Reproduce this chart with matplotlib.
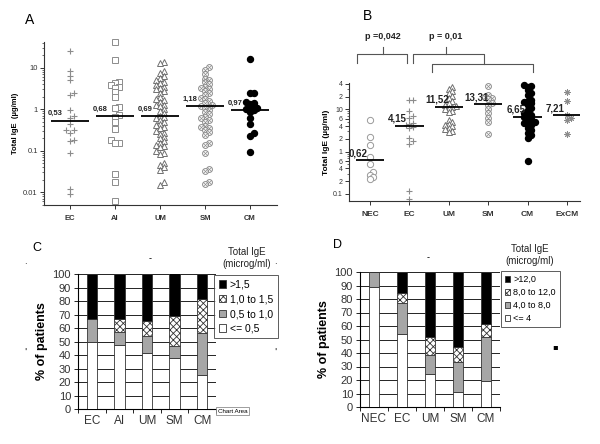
import numpy as np
import matplotlib
matplotlib.use("Agg")
import matplotlib.pyplot as plt
from matplotlib.lines import Line2D
from matplotlib.patches import Patch
from matplotlib.transforms import blended_transform_factory

plt.rcParams['font.family'] = ['Liberation Sans', 'DejaVu Sans']
plt.rcParams['hatch.linewidth'] = 0.6

# ---- panel A: total IgE (ug/ml) per group ----
groups_a = ["EC", "AI", "UM", "SM", "CM"]
a_ec = [25, 8.3, 6.5, 5.2, 2.5, 2.2, 0.95, 0.68, 0.6, 0.45, 0.32, 0.31, 0.27, 0.18, 0.17,
        0.088, 0.012, 0.0091]
a_ai = [42, 15.5, 4.5, 4.3, 3.8, 3.5, 3.3, 2.6, 2.0, 1.15, 1.05, 0.72, 0.66, 0.48, 0.33,
        0.18, 0.15, 0.15, 0.028, 0.018, 0.006]
a_um = [14, 13, 8.5, 7.5, 6.5, 5.8, 5, 4.5, 4.2, 3.8, 3.5, 3.2, 3.0, 2.8, 2.5, 2.0, 1.8,
        1.7, 1.5, 1.3, 1.3, 1.2, 1.0, 0.9, 0.8, 0.7, 0.65, 0.6, 0.55, 0.5, 0.45, 0.42, 0.38,
        0.35, 0.3, 0.27, 0.25, 0.22, 0.2, 0.17, 0.15, 0.14, 0.13, 0.12, 0.1, 0.09, 0.085,
        0.05, 0.045, 0.04, 0.035, 0.018, 0.015]
a_sm = [10.5, 9, 7, 5.5, 5, 4.5, 4, 3.5, 3.3, 3.1, 2.8, 2.5, 2.2, 1.9, 1.8, 1.6, 1.4, 1.3,
        1.2, 1.15, 1.1, 0.95, 0.85, 0.75, 0.65, 0.6, 0.55, 0.5, 0.4, 0.37, 0.35, 0.32, 0.28,
        0.24, 0.15, 0.14, 0.09, 0.037, 0.032, 0.018, 0.016]
a_cm = [16.5, 2.5, 2.5, 1.5, 1.45, 1.35, 1.2, 1.1, 1.05, 1.0, 0.95, 0.85, 0.62, 0.43, 0.27,
        0.23, 0.093]
medians_a = [0.53, 0.68, 0.69, 1.18, 0.97]
median_labels_a = ["0,53", "0,68", "0,69", "1,18", "0,97"]

# ---- panel B ----
groups_b = ["NEC", "EC", "UM", "SM", "CM", "ExCM"]
b_nec = [5.5, 2.2, 1.4, 0.75, 0.5, 0.33, 0.28, 0.25, 0.23]
b_ec = [17, 17, 9, 7, 6.2, 4.8, 4.4, 4.2, 3.8, 3.6, 2.1, 1.8, 1.5, 0.12, 0.075]
b_um = [34, 30, 27, 24, 21, 19, 16, 14, 13, 12, 11.5, 11, 10, 9, 8.5, 5.6, 5, 4.5, 4.2,
        4, 3.7, 3.4, 3.1, 2.9]
b_sm = [36, 22, 20, 19, 18, 14, 12.5, 10, 8.2, 6.2, 5, 2.6]
b_cm = [38, 36, 34, 28, 24, 22, 17, 16, 15, 14, 13, 10.5, 9.5, 8, 7.5, 7, 6.5, 6, 5.5, 5,
        4.8, 4.5, 4.2, 3.6, 3.2, 2.8, 2.5, 2.1, 0.6]
b_excm = [26, 15.5, 7.3, 6.3, 5.6, 2.6]
medians_b = [0.62, 4.15, 11.52, 13.31, 6.65, 7.21]
median_labels_b = ["0,62", "4,15", "11,52", "13,31", "6,65", "7,21"]
b_ticks = [0.1, 0.2, 0.4, 0.6, 1, 2, 4, 6, 10, 20, 40]
b_tick_labels = ["0.1", "2", "4", "6", "1", "2", "4", "6", "10", "2", "4"]
p_labels = ["p =0,042", "p = 0,01"]

# ---- panel C: % of patients per IgE class (bottom to top) ----
groups_c = ["EC", "AI", "UM", "SM", "CM"]
c_low = [50, 47.6, 41.7, 37.8, 25]
c_mid = [16.7, 9.5, 12.5, 9.2, 31.25]
c_high = [0, 9.6, 11.2, 22, 25]
c_top = [33.3, 33.3, 34.6, 31.4, 18.75]
c_legend = [">1,5", "1,0 to 1,5", "0,5 to 1,0", "<= 0,5"]

# ---- panel D ----
groups_d = ["NEC", "EC", "UM", "SM", "CM"]
d_low = [88.9, 53.8, 24.2, 11.1, 19.4]
d_mid = [11.1, 23.1, 14.3, 22.2, 32.2]
d_high = [0, 7.7, 13.5, 11.1, 9.7]
d_top = [0, 15.4, 48.0, 55.6, 38.7]
d_legend = [">12,0", "8,0 to 12,0", "4,0 to 8,0", "<= 4"]


def swarm(values, ppd, ppu, diam, step):
    """Beeswarm-style x offsets (data units), packed tightly so columns stay narrow."""
    ys = np.log10(values) * ppd
    offs = np.zeros(len(values))
    placed = []
    for i in np.argsort(ys):
        y = ys[i]
        for k in range(60):
            cand = 0.0 if k == 0 else ((k + 1) // 2) * step * (1 if k % 2 else -1)
            if all((cand - px) ** 2 + (y - py) ** 2 >= diam ** 2 for px, py in placed):
                break
        placed.append((cand, y))
        offs[i] = cand / ppu
    return offs


def draw_marks(ax, pos, vals, kind, ppd, ppu):
    vals = np.asarray(vals, dtype=float)
    x = pos + swarm(vals, ppd, ppu, 3.4, 3.6)
    g = '#8c8c8c'
    kw = dict(ls='none', clip_on=False)
    if kind == 'plus':
        ax.plot(x, vals, marker='+', ms=5, mew=0.8, color=g, **kw)
    elif kind == 'square':
        ax.plot(x, vals, marker='s', ms=4, mew=0.7, mfc='white', color=g, **kw)
    elif kind == 'tri':
        ax.plot(x, vals, marker='^', ms=4.2, mew=0.7, mfc='white', color='#707070', **kw)
    elif kind == 'otimes':
        ax.plot(x, vals, marker='o', ms=4.2, mew=0.7, mfc='white', color=g, **kw)
        ax.plot(x, vals, marker='x', ms=2.4, mew=0.5, color=g, **kw)
    elif kind == 'circle':
        ax.plot(x, vals, marker='o', ms=4.5, mew=0.7, mfc='white', color='#999999', **kw)
    elif kind == 'dot':
        ax.plot(x, vals, marker='o', ms=4.3, color='black', **kw)
    elif kind == 'star':
        ax.plot(x, vals, marker=(8, 2, 0), ms=4.5, mew=0.7, color=g, **kw)


def style_log_axis(ax):
    for s in ('top', 'right'):
        ax.spines[s].set_visible(False)
    for s in ('left', 'bottom'):
        ax.spines[s].set_color('#333333')
        ax.spines[s].set_linewidth(0.8)
    ax.tick_params(which='major', length=3, width=0.7, color='#333333', pad=1.5)
    ax.tick_params(which='minor', length=1.5, width=0.5, color='#333333')


fig = plt.figure(figsize=(6.0, 4.44), dpi=100)

# ================= A =================
ax_a = fig.add_axes([44 / 600, 1 - 205 / 444, 233 / 600, 163 / 444])
ax_a.set_yscale('log')
ax_a.set_ylim(0.0049, 42)
ax_a.set_xlim(0.42, 5.6)
kinds_a = ['plus', 'square', 'tri', 'otimes', 'dot']
for i, vals in enumerate([a_ec, a_ai, a_um, a_sm, a_cm]):
    pos = i + 1
    draw_marks(ax_a, pos, vals, kinds_a[i], 42, 45)
    ax_a.hlines(medians_a[i], pos - 0.42, pos + 0.42, color='black', lw=1.3, zorder=5)
    ax_a.annotate(median_labels_a[i], (pos - 0.33, medians_a[i]), xytext=(0, 2.5),
                  textcoords='offset points', ha='center', va='bottom',
                  fontsize=5.5, fontweight='bold', color='#222222', zorder=6)
style_log_axis(ax_a)
ax_a.set_yticks([0.01, 0.1, 1, 10])
ax_a.set_yticklabels(['0.01', '0.1', '1', '10'], fontsize=5.5, color='#333333')
ax_a.set_xticks(range(1, 6))
ax_a.set_xticklabels(groups_a, fontsize=5.5, fontweight='bold', color='#333333')
ax_a.tick_params(axis='x', pad=4)
ax_a.set_ylabel('Total IgE  (µg/ml)', fontsize=5.5, fontweight='bold', labelpad=3)
fig.text(25 / 600, 1 - 20 / 444, 'A', fontsize=10, va='center')

# ================= B =================
ax_b = fig.add_axes([349 / 600, 1 - 201 / 444, 231 / 600, 118 / 444])
ax_b.set_yscale('log')
ax_b.set_ylim(0.068, 42)
ax_b.set_xlim(0.47, 6.33)
kinds_b = ['circle', 'plus', 'tri', 'otimes', 'dot', 'star']
for i, vals in enumerate([b_nec, b_ec, b_um, b_sm, b_cm, b_excm]):
    pos = i + 1
    draw_marks(ax_b, pos, vals, kinds_b[i], 42.5, 39.5)
    ax_b.hlines(medians_b[i], pos - 0.36, pos + 0.36, color='black', lw=1.3, zorder=5)
    ax_b.annotate(median_labels_b[i], (pos - 0.3, medians_b[i]), xytext=(0, 1.5),
                  textcoords='offset points', ha='center', va='bottom',
                  fontsize=7, fontweight='bold', color='#222222', zorder=6)
style_log_axis(ax_b)
ax_b.set_yticks(b_ticks)
ax_b.set_yticklabels(b_tick_labels, fontsize=5, color='#333333')
ax_b.set_yticks([0.3, 0.5, 0.7, 0.8, 0.9, 3, 5, 7, 8, 9, 30], minor=True)
ax_b.yaxis.set_minor_formatter(plt.NullFormatter())
ax_b.set_xticks(range(1, 7))
ax_b.set_xticklabels(groups_b, fontsize=6, fontweight='bold', color='#333333')
ax_b.tick_params(axis='x', pad=4)
ax_b.set_ylabel('Total IgE (µg/ml)', fontsize=6, fontweight='bold', labelpad=2)
fig.text(363 / 600, 1 - 16 / 444, 'B', fontsize=10, va='center')

# significance brackets (x in data units, y in axes fraction)
tr = blended_transform_factory(ax_b.transData, ax_b.transAxes)
bracket_lines = [
    ([0.67, 0.67, 1.94, 1.94], [1.169, 1.246, 1.246, 1.169]),
    ([1.33, 1.33], [1.246, 1.305]),
    ([2.09, 2.09, 3.89, 3.89], [1.169, 1.246, 1.246, 1.161]),
    ([2.92, 2.92], [1.246, 1.305]),
    ([2.57, 2.57, 5.13, 5.13], [1.093, 1.161, 1.161, 1.093]),
]
for xs, ys in bracket_lines:
    ax_b.add_line(Line2D(xs, ys, transform=tr, color='#555555', lw=0.8, clip_on=False))
ax_b.text(1.33, 1.39, p_labels[0], transform=tr, ha='center', va='center',
          fontsize=6.5, fontweight='bold', color='#222222')
ax_b.text(2.92, 1.39, p_labels[1], transform=tr, ha='center', va='center',
          fontsize=6.5, fontweight='bold', color='#222222')

# ================= C & D (stacked bars) =================
fill_colors = ['white', '#a6a6a6', 'white', 'black']
fill_hatches = [None, None, 'xxxxx', None]


def stacked(ax, cats, layers):
    x = np.arange(len(cats))
    bottom = np.zeros(len(cats))
    for vals, fc, h in zip(layers, fill_colors, fill_hatches):
        vals = np.asarray(vals, dtype=float)
        ax.bar(x, vals, 0.37, bottom=bottom, color=fc, edgecolor='#333333',
               hatch=h, lw=0.6, zorder=3)
        bottom += vals
    ax.set_xlim(-0.5, len(cats) - 0.5)
    ax.set_ylim(0, 100)
    ax.set_yticks(range(0, 101, 10))
    ax.yaxis.grid(True, color='black', lw=0.6, zorder=0)
    ax.set_axisbelow(True)
    for s in ('top', 'right'):
        ax.spines[s].set_visible(False)
    for s in ('left', 'bottom'):
        ax.spines[s].set_color('black')
        ax.spines[s].set_linewidth(0.8)
    ax.set_xticks(x)
    ax.set_xticklabels(cats, fontsize=8.5, color='#333333')
    ax.set_xticks(np.arange(-0.5, len(cats)), minor=True)
    ax.tick_params(axis='x', which='major', length=0, pad=4)
    ax.tick_params(axis='x', which='minor', length=3, width=0.6)
    ax.tick_params(axis='y', length=3, width=0.6, labelsize=8, labelcolor='#333333', pad=2)
    ax.set_ylabel('% of patients', fontsize=9, fontweight='bold', labelpad=3)


def legend_handles():
    return [Patch(fc='black', ec='#333333', lw=0.6),
            Patch(fc='white', ec='#333333', hatch='xxxxx', lw=0.6),
            Patch(fc='#a6a6a6', ec='#333333', lw=0.6),
            Patch(fc='white', ec='#333333', lw=0.6)]


ax_c = fig.add_axes([78 / 600, 1 - 409 / 444, 138 / 600, 135 / 444])
stacked(ax_c, groups_c, [c_low, c_mid, c_high, c_top])
leg = fig.legend(legend_handles(), c_legend, loc='upper left',
                 bbox_to_anchor=(214 / 600, 1 - 275 / 444), frameon=True, fancybox=False,
                 edgecolor='#333333', fontsize=7.5, handlelength=0.7, handleheight=0.7,
                 handletextpad=0.35, borderpad=0.45, labelspacing=0.45, borderaxespad=0)
leg.get_frame().set_linewidth(0.7)
fig.text(247 / 600, 1 - 258 / 444, 'Total IgE\n(microg/ml)', ha='center', va='center',
         fontsize=7, color='#222222', linespacing=1.15)
fig.text(32 / 600, 1 - 248 / 444, 'C', fontsize=9, va='center')
fig.text(218 / 600, 1 - 411 / 444, 'Chart Area', fontsize=4.5, va='center', ha='left',
         bbox=dict(boxstyle='square,pad=0.25', fc='white', ec='#777777', lw=0.5))

ax_d = fig.add_axes([360 / 600, 1 - 407 / 444, 140 / 600, 135 / 444])
stacked(ax_d, groups_d, [d_low, d_mid, d_high, d_top])
leg = fig.legend(legend_handles(), d_legend, loc='upper left',
                 bbox_to_anchor=(501 / 600, 1 - 271 / 444), frameon=True, fancybox=False,
                 edgecolor='#333333', fontsize=6.5, handlelength=0.6, handleheight=0.6,
                 handletextpad=0.3, borderpad=0.45, labelspacing=0.45, borderaxespad=0)
leg.get_frame().set_linewidth(0.7)
fig.text(530 / 600, 1 - 255 / 444, 'Total IgE\n(microg/ml)', ha='center', va='center',
         fontsize=7, color='#222222', linespacing=1.15)
fig.text(333 / 600, 1 - 245 / 444, 'D', fontsize=9, va='center')

# small selection handles left over in the original screenshot
for hx, hy, ch in [(150, 259, '-'), (25, 262, '.'), (275, 262, '.'), (25, 352, "'"),
                   (275, 352, "'"), (428, 258, '-'), (555, 347, '▪')]:
    fig.text(hx / 600, 1 - hy / 444, ch, fontsize=6, ha='center', va='center',
             family=['DejaVu Sans'])

fig.savefig('out.png', dpi=100)
